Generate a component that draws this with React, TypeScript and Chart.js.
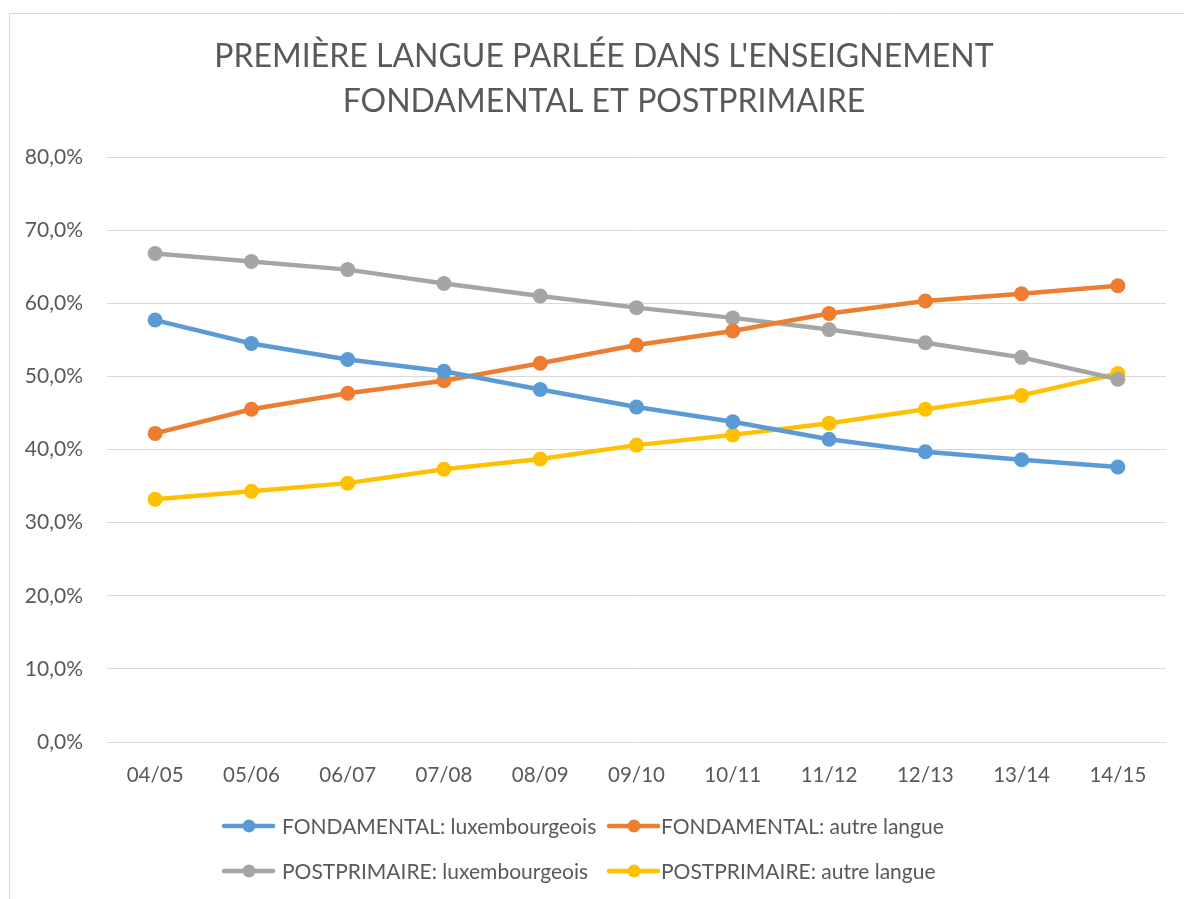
import React, { useEffect, useRef } from "react";
import { Chart, registerables } from "chart.js";

Chart.register(...registerables);

const categories = ["04/05", "05/06", "06/07", "07/08", "08/09", "09/10", "10/11", "11/12", "12/13", "13/14", "14/15"];
const fondLux = [57.7, 54.5, 52.3, 50.7, 48.2, 45.8, 43.8, 41.4, 39.7, 38.6, 37.6];
const fondAutre = [42.2, 45.5, 47.7, 49.4, 51.8, 54.3, 56.2, 58.6, 60.3, 61.3, 62.4];
const postLux = [66.8, 65.7, 64.6, 62.7, 61.0, 59.4, 58.0, 56.4, 54.6, 52.6, 49.6];
const postAutre = [33.2, 34.3, 35.4, 37.3, 38.7, 40.6, 42.0, 43.6, 45.5, 47.4, 50.4];
const seriesNames = [
  "FONDAMENTAL: luxembourgeois",
  "FONDAMENTAL: autre langue",
  "POSTPRIMAIRE: luxembourgeois",
  "POSTPRIMAIRE: autre langue",
];
const seriesColors = ["#5B9BD5", "#ED7D31", "#A5A5A5", "#FFC000"];
const titleLines = ["PREMIÈRE LANGUE PARLÉE DANS L'ENSEIGNEMENT", "FONDAMENTAL ET POSTPRIMAIRE"];

const FONT = "Lato, 'Open Sans', sans-serif";
const TEXT = "#595959";

const decorPlugin = {
  id: "decor",
  beforeDraw(chart: any) {
    const ctx = chart.ctx;
    ctx.save();
    ctx.fillStyle = "#ffffff";
    ctx.fillRect(0, 0, chart.width, chart.height);
    ctx.strokeStyle = "#D9D9D9";
    ctx.lineWidth = 1;
    ctx.beginPath();
    ctx.moveTo(9.5, chart.height);
    ctx.lineTo(9.5, 13.5);
    ctx.lineTo(chart.width, 13.5);
    ctx.stroke();
    ctx.restore();
  },
  afterDraw(chart: any) {
    const ctx = chart.ctx;
    ctx.save();
    ctx.fillStyle = TEXT;
    ctx.textAlign = "center";
    ctx.textBaseline = "middle";
    ctx.font = `32px ${FONT}`;
    ctx.fillText(titleLines[0], 604, 57);
    ctx.fillText(titleLines[1], 604, 102);

    const items = [
      { x: 222, y: 826, tx: 282 },
      { x: 607, y: 826, tx: 661 },
      { x: 222, y: 871, tx: 282 },
      { x: 607, y: 871, tx: 661 },
    ];
    ctx.font = `21px ${FONT}`;
    ctx.textAlign = "left";
    items.forEach((it, i) => {
      const c = seriesColors[i];
      ctx.strokeStyle = c;
      ctx.lineWidth = 4.5;
      ctx.lineCap = "round";
      ctx.beginPath();
      ctx.moveTo(it.x + 2, it.y);
      ctx.lineTo(it.x + 51, it.y);
      ctx.stroke();
      ctx.fillStyle = c;
      ctx.beginPath();
      ctx.arc(it.x + 27, it.y, 6.5, 0, Math.PI * 2);
      ctx.fill();
      ctx.fillStyle = TEXT;
      ctx.fillText(seriesNames[i], it.tx, it.y + 1);
    });
    ctx.restore();
  },
};

export default function App() {
  const ref = useRef<HTMLCanvasElement | null>(null);
  useEffect(() => {
    if (!ref.current) return;
    const data = [fondLux, fondAutre, postLux, postAutre];
    const chart = new Chart(ref.current, {
      type: "line",
      data: {
        labels: categories,
        datasets: data.map((d, i) => ({
          label: seriesNames[i],
          data: d,
          borderColor: seriesColors[i],
          backgroundColor: seriesColors[i],
          pointBackgroundColor: seriesColors[i],
          pointBorderColor: seriesColors[i],
          borderWidth: 4.5,
          pointRadius: 7.5,
          pointBorderWidth: 0,
          tension: 0,
          fill: false,
        })),
      },
      options: {
        animation: false,
        responsive: false,
        maintainAspectRatio: false,
        layout: { padding: { left: 9, right: 18, top: 157, bottom: 0 } },
        plugins: {
          legend: { display: false },
          title: { display: false },
          tooltip: { enabled: false },
        },
        scales: {
          x: {
            offset: true,
            grid: { display: false, drawTicks: false },
            border: { display: false },
            ticks: {
              color: TEXT,
              font: { family: FONT, size: 20.5 },
              padding: 21,
              maxRotation: 0,
              autoSkip: false,
            },
            afterFit: (s: any) => {
              s.height = 157;
            },
          },
          y: {
            min: 0,
            max: 80,
            grid: { color: "#D9D9D9", lineWidth: 1, drawTicks: false },
            border: { display: false },
            ticks: {
              stepSize: 10,
              color: TEXT,
              font: { family: FONT, size: 21 },
              padding: 24,
              callback: (v: any) => Number(v).toFixed(1).replace(".", ",") + "%",
            },
            afterFit: (s: any) => {
              s.width = 98;
            },
          },
        },
      },
      plugins: [decorPlugin],
    });
    return () => chart.destroy();
  }, []);
  return (
    <div style={{ position: "absolute", left: 0, top: 0, width: 1184, height: 899 }}>
      <canvas ref={ref} width={1184} height={899} style={{ display: "block", width: 1184, height: 899 }} />
    </div>
  );
}
